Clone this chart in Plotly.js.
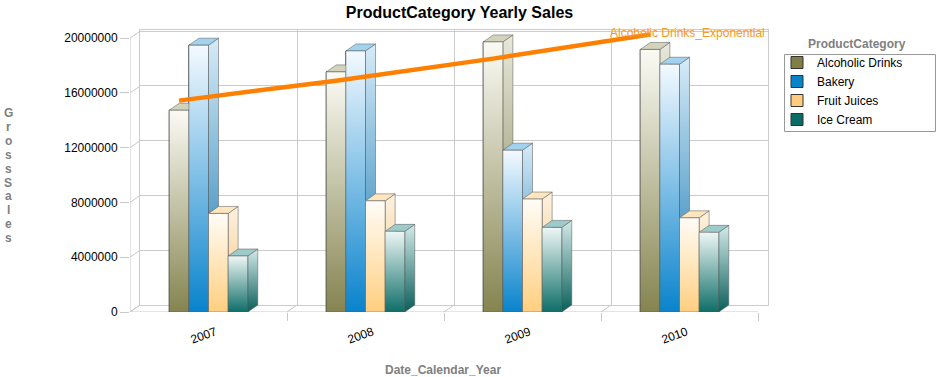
<!DOCTYPE html>
<html><head><meta charset="utf-8">
<script src="https://cdn.plot.ly/plotly-3.0.1.min.js"></script>
<style>html,body{margin:0;padding:0;background:#fff}#chart{width:940px;height:377px}</style>
</head><body><div id="chart"></div>
<script>
// ---------------- DATA ----------------
const years = [2007, 2008, 2009, 2010];
const yearLabels = ['2007', '2008', '2009', '2010'];
const seriesNames = ['Alcoholic Drinks', 'Bakery', 'Fruit Juices', 'Ice Cream'];
const alcoholicDrinks = [14740000, 17540000, 19730000, 19180000];
const bakery = [19490000, 19070000, 11820000, 18100000];
const fruitJuices = [7200000, 8120000, 8250000, 6880000];
const iceCream = [4090000, 5890000, 6180000, 5820000];
const trendLabel = 'Alcoholic Drinks_Exponential';
const alcoholicTrend = [15440000, 16900000, 18510000, 20270000];
const yTickValues = [0, 4000000, 8000000, 12000000, 16000000, 20000000];
const chartTitle = 'ProductCategory Yearly Sales';
const xTitle = 'Date_Calendar_Year';
const yTitle = 'GrossSales';
const legendTitle = 'ProductCategory';

// ---------------- STYLE / GEOMETRY ----------------
const FONT = 'Liberation Sans, Arial, sans-serif';
const W = 940, H = 377;
const L = 130, R = 768, T = 30, B = 312;   // plot area (px)
const FRONT_R = 758;                        // right edge of front plane
const DX = 10, DY = 7;                      // 3D depth (px)
const Y_TOP = 20600000;
const BARGAP = 0.5;
const GRID = '#cccccc';
const plotW = R - L, plotH = B - T;
const xRange = [years[0] - 0.5, years[years.length - 1] + 0.5];
const pxPerX = (FRONT_R - L) / (xRange[1] - xRange[0]);
const pxPerY = plotH / Y_TOP;
const dXd = DX / pxPerX, dYd = DY / pxPerY;

const seriesValues = [alcoholicDrinks, bakery, fruitJuices, iceCream];
const styles = [
  {base: '#807f45', front: ['#858450', '#fbfbf5'], side: ['#737340', '#e9e9dc'], top: '#d3d3bc'},
  {base: '#0a84c8', front: ['#0983cc', '#f4faff'], side: ['#1677b0', '#d6ebf8'], top: '#a3d2ef'},
  {base: '#ffcc80', front: ['#ffcf80', '#fffdf8'], side: ['#f2c27c', '#fdf2e0'], top: '#ffe6bf'},
  {base: '#0b6b66', front: ['#0e6e68', '#eef7f6'], side: ['#0a5f5b', '#d4eae9'], top: '#9ccbc9'}
];
const EDGE = 'rgba(90,90,90,0.75)';

const traces = [];
// empty trace for the back-wall subplot
traces.push({type: 'scatter', x: [], y: [], xaxis: 'x', yaxis: 'y', showlegend: false, hoverinfo: 'skip'});

seriesNames.forEach((name, i) => {
  traces.push({
    type: 'bar', name: name, x: years, y: seriesValues[i], xaxis: 'x2', yaxis: 'y2',
    marker: {color: styles[i].base, line: {color: '#333333', width: 1}}
  });
});

const nS = seriesNames.length;
const groupW = 1 - BARGAP, barW = groupW / nS;
years.forEach((yr, j) => {
  seriesValues.forEach((vals, i) => {
    const v = vals[j];
    const l = yr - groupW / 2 + i * barW, r = l + barW;
    const st = styles[i];
    const common = {type: 'scatter', mode: 'lines', fill: 'toself', xaxis: 'x2', yaxis: 'y2',
      showlegend: false, hoverinfo: 'skip', line: {color: EDGE, width: 0.7}};
    traces.push(Object.assign({}, common, {
      x: [r, r + dXd, r + dXd, r, r], y: [0, dYd, v + dYd, v, 0],
      fillcolor: st.side[0],
      fillgradient: {type: 'vertical', colorscale: [[0, st.side[0]], [1, st.side[1]]]}
    }));
    traces.push(Object.assign({}, common, {
      x: [l, r, r + dXd, l + dXd, l], y: [v, v, v + dYd, v + dYd, v],
      fillcolor: st.top
    }));
    traces.push(Object.assign({}, common, {
      x: [l, r, r, l, l], y: [0, 0, v, v, 0],
      fillcolor: st.front[0],
      fillgradient: {type: 'vertical', colorscale: [[0, st.front[0]], [1, st.front[1]]]}
    }));
  });
});

traces.push({
  type: 'scatter', mode: 'lines', name: trendLabel, showlegend: false, xaxis: 'x2', yaxis: 'y2',
  x: years.map(yr => yr - groupW / 2 + barW / 2), y: alcoholicTrend,
  line: {color: '#ff8000', width: 4.5}, hoverinfo: 'skip'
});

const boundaries = [];
for (let k = 0; k <= years.length; k++) boundaries.push(xRange[0] + k);

const px2paperX = px => (px - L) / plotW;
const px2paperY = py => (B - py) / plotH;

const shapes = [];
const lineStyle = {color: '#c8c8c8', width: 1};
boundaries.forEach(b => shapes.push({type: 'line', layer: 'below', xref: 'x2', yref: 'y2',
  xsizemode: 'pixel', ysizemode: 'pixel', xanchor: b, yanchor: 0, x0: 0, y0: 0, x1: DX, y1: DY, line: lineStyle}));
yTickValues.forEach(v => shapes.push({type: 'line', layer: 'below', xref: 'x2', yref: 'y2',
  xsizemode: 'pixel', ysizemode: 'pixel', xanchor: xRange[0], yanchor: v, x0: 0, y0: 0, x1: DX, y1: DY, line: lineStyle}));
shapes.push({type: 'line', layer: 'below', xref: 'x2', yref: 'y2', x0: xRange[0], x1: xRange[0], y0: 0,
  y1: yTickValues[yTickValues.length - 1], line: lineStyle});
shapes.push({type: 'line', layer: 'below', xref: 'x2', yref: 'y2', x0: xRange[0], x1: xRange[1], y0: 0, y1: 0, line: lineStyle});
// legend frame
shapes.push({type: 'rect', layer: 'above', xref: 'paper', yref: 'paper',
  x0: px2paperX(784.5), x1: px2paperX(935.5), y0: px2paperY(54.5), y1: px2paperY(131.5),
  line: {color: '#999999', width: 1}, fillcolor: 'rgba(0,0,0,0)'});

const annotations = [
  {text: legendTitle, xref: 'paper', yref: 'paper', x: px2paperX(857), y: px2paperY(44), showarrow: false,
    xanchor: 'center', yanchor: 'middle', font: {family: FONT, size: 12, weight: 'bold', color: '#808080'}},
  {text: xTitle, xref: 'paper', yref: 'paper', x: px2paperX(443), y: px2paperY(370), showarrow: false,
    xanchor: 'center', yanchor: 'middle', font: {family: FONT, size: 12, weight: 'bold', color: '#808080'}},
  {text: trendLabel, xref: 'paper', yref: 'paper', x: px2paperX(687), y: px2paperY(33), showarrow: false,
    xanchor: 'center', yanchor: 'middle', font: {family: FONT, size: 12, color: '#f39a2e'}}
];
yTitle.split('').forEach((ch, k) => annotations.push({
  text: ch, xref: 'paper', yref: 'paper', x: px2paperX(8), y: px2paperY(113 + k * 13.9), showarrow: false,
  xanchor: 'center', yanchor: 'middle', font: {family: FONT, size: 12, weight: 'bold', color: '#808080'}
}));

const layout = {
  width: W, height: H,
  margin: {l: L, r: W - R, t: T, b: H - B, pad: 0},
  paper_bgcolor: '#ffffff', plot_bgcolor: 'rgba(0,0,0,0)',
  font: {family: FONT, size: 12, color: '#000000'},
  title: {text: chartTitle, font: {family: FONT, size: 16, weight: 'bold', color: '#000000'},
    x: 459.5 / W, xref: 'container', xanchor: 'center', y: 1 - 12 / H, yref: 'container', yanchor: 'middle'},
  barmode: 'group', bargap: BARGAP, bargroupgap: 0,
  showlegend: true,
  legend: {x: px2paperX(777), y: px2paperY(48), xanchor: 'left', yanchor: 'top',
    borderwidth: 0, bgcolor: 'rgba(0,0,0,0)', font: {family: FONT, size: 12, color: '#000'},
    traceorder: 'normal'},
  xaxis: {domain: [DX / plotW, 1], range: xRange, anchor: 'y', showline: true, mirror: true, linecolor: GRID,
    tickmode: 'array', tickvals: boundaries.slice(1, -1), showticklabels: false, ticks: '',
    showgrid: true, gridcolor: GRID, zeroline: false, fixedrange: true},
  yaxis: {domain: [DY / plotH, 1], range: [0, Y_TOP - dYd], anchor: 'x', showline: true, mirror: true, linecolor: GRID,
    tickmode: 'array', tickvals: yTickValues, showticklabels: false, ticks: '',
    showgrid: true, gridcolor: GRID, zeroline: false, fixedrange: true},
  xaxis2: {domain: [0, (FRONT_R - L) / plotW], range: xRange, anchor: 'y2',
    tickmode: 'array', tickvals: years, ticktext: yearLabels, tickangle: -20, ticks: '',
    ticklabelshift: 7, ticklabelstandoff: 10,
    minor: {tickmode: 'array', tickvals: boundaries.slice(1), ticks: 'outside', ticklen: 8, tickcolor: '#c8c8c8', showgrid: false},
    tickfont: {family: FONT, size: 12, color: '#000'},
    showgrid: false, showline: false, zeroline: false, fixedrange: true},
  yaxis2: {domain: [0, 1], range: [0, Y_TOP], anchor: 'x2',
    tickmode: 'array', tickvals: yTickValues, tickformat: 'd', ticks: 'outside', ticklen: 9, tickcolor: '#c8c8c8',
    tickfont: {family: FONT, size: 12, color: '#000'},
    showgrid: false, showline: false, zeroline: false, fixedrange: true},
  shapes: shapes,
  annotations: annotations
};

Plotly.newPlot('chart', traces, layout, {displayModeBar: false, staticPlot: true});
</script>
</body></html>
